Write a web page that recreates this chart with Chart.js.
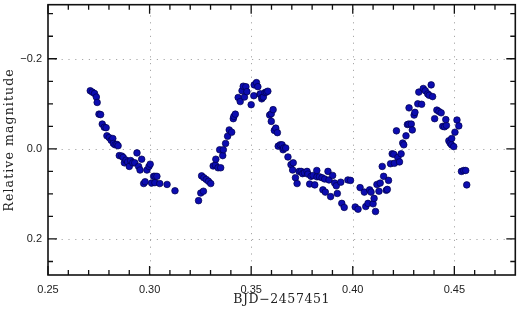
<!DOCTYPE html>
<html>
<head>
<meta charset="utf-8">
<script src="https://cdn.jsdelivr.net/npm/chart.js@4.4.1/dist/chart.umd.min.js"></script>
<style>
  html, body { margin: 0; padding: 0; background: #fff; }
  #wrap { width: 520px; height: 314px; }
</style>
</head>
<body>
<div id="wrap"><canvas id="lc" width="520" height="314"></canvas></div>
<script>
// time (BJD - 2457451)
const bjd = [
  0.2708, 0.2718, 0.2729, 0.2738, 0.2742, 0.2751, 0.2759, 0.2767, 0.2777, 0.2786,
  0.2790, 0.2801, 0.2811, 0.2819, 0.2822, 0.2830, 0.2839, 0.2845, 0.2851, 0.2863,
  0.2870, 0.2876, 0.2884, 0.2892, 0.2900, 0.2907, 0.2917, 0.2927, 0.2938, 0.2946,
  0.2953, 0.2961, 0.2971, 0.2978, 0.2987, 0.2997, 0.3003, 0.3010, 0.3020, 0.3026,
  0.3027, 0.3036, 0.3050, 0.3086, 0.3125,
  0.3241, 0.3252, 0.3265, 0.3256, 0.3267, 0.3279, 0.3290, 0.3301, 0.3313, 0.3324,
  0.3326, 0.3337, 0.3350, 0.3345, 0.3360, 0.3363, 0.3374, 0.3384, 0.3392, 0.3404,
  0.3412, 0.3415, 0.3422, 0.3436, 0.3446, 0.3455, 0.3461, 0.3467, 0.3474, 0.3479,
  0.3500, 0.3513, 0.3515, 0.3526, 0.3533, 0.3543, 0.3546, 0.3552, 0.3554, 0.3560,
  0.3568, 0.3575, 0.3582,
  0.3591, 0.3599, 0.3608, 0.3599, 0.3614, 0.3621, 0.3629, 0.3633, 0.3643, 0.3652,
  0.3657, 0.3660, 0.3670, 0.3681, 0.3696, 0.3707, 0.3704, 0.3718, 0.3726, 0.3736,
  0.3746, 0.3753, 0.3762, 0.3775, 0.3779, 0.3788, 0.3795, 0.3805, 0.3813, 0.3823,
  0.3824, 0.3836, 0.3849, 0.3853, 0.3865, 0.3862, 0.3878, 0.3883, 0.3891, 0.3901,
  0.3911, 0.3919, 0.3924, 0.3941, 0.3946, 0.3958, 0.3976, 0.3989, 0.4012, 0.4026,
  0.4036, 0.4057, 0.4064, 0.4075, 0.4083, 0.4090, 0.4100, 0.4105, 0.4112, 0.4119,
  0.4129, 0.4135, 0.4145, 0.4152, 0.4165, 0.4170, 0.4176, 0.4186, 0.4194, 0.4202,
  0.4205, 0.4215, 0.4222, 0.4230, 0.4238, 0.4246, 0.4251, 0.4262, 0.4269, 0.4276,
  0.4277, 0.4288, 0.4293, 0.4302, 0.4306, 0.4320, 0.4325, 0.4339, 0.4347, 0.4357,
  0.4369, 0.4376, 0.4386, 0.4393, 0.4403, 0.4414, 0.4424, 0.4435, 0.4443, 0.4452,
  0.4461, 0.4458, 0.4473, 0.4479, 0.4486, 0.4497, 0.4487, 0.4503, 0.4513, 0.4522,
  0.4535, 0.4546, 0.4556, 0.4561
];

// relative magnitude
const relMag = [
  -0.129, -0.126, -0.123, -0.115, -0.103, -0.077, -0.076, -0.055, -0.048, -0.047,
  -0.029, -0.025, -0.019, -0.023, -0.012, -0.009, -0.010, -0.007, 0.015, 0.016,
  0.019, 0.031, 0.025, 0.029, 0.039, 0.026, 0.031, 0.031, 0.009, 0.039,
  0.047, 0.023, 0.077, 0.073, 0.047, 0.039, 0.034, 0.076, 0.061, 0.075,
  0.061, 0.061, 0.077, 0.079, 0.093,
  0.115, 0.098, 0.094, 0.060, 0.064, 0.068, 0.072, 0.077, 0.038, 0.036,
  0.023, 0.042, 0.042, 0.002, 0.015, 0.002, -0.012, -0.028, -0.042, -0.037,
  -0.067, -0.072, -0.077, -0.114, -0.105, -0.129, -0.139, -0.115, -0.138, -0.127,
  -0.098, -0.118, -0.142, -0.147, -0.138, -0.121, -0.122, -0.111, -0.114, -0.115,
  -0.125, -0.126, -0.128,
  -0.075, -0.078, -0.087, -0.061, -0.041, -0.046, -0.036, -0.006, -0.009, -0.009,
  0.002, -0.002, -0.002, 0.018, 0.035, 0.031, 0.047, 0.064, 0.077, 0.050,
  0.050, 0.055, 0.053, 0.050, 0.056, 0.078, 0.061, 0.059, 0.080, 0.048,
  0.062, 0.062, 0.064, 0.091, 0.096, 0.067, 0.050, 0.069, 0.106, 0.059,
  0.076, 0.082, 0.099, 0.074, 0.121, 0.130, 0.069, 0.070, 0.129, 0.134,
  0.086, 0.096, 0.128, 0.121, 0.091, 0.096, 0.122, 0.110, 0.139, 0.079,
  0.094, 0.076, 0.039, 0.061, 0.092, 0.090, 0.070, 0.033, 0.011, 0.012,
  0.032, -0.040, 0.019, 0.029, 0.011, -0.013, -0.009, -0.029, -0.054, -0.055,
  -0.091, -0.055, -0.042, -0.075, -0.081, -0.100, -0.126, -0.099, -0.134, -0.129,
  -0.122, -0.119, -0.142, -0.116, -0.067, -0.086, -0.083, -0.080, -0.050, -0.049,
  -0.052, -0.065, -0.018, -0.013, -0.009, -0.005, -0.023, -0.037, -0.064, -0.051,
  0.050, 0.048, 0.048, 0.080
];

const xMajor = [0.25, 0.30, 0.35, 0.40, 0.45];
const xMinor = [0.26, 0.27, 0.28, 0.29, 0.31, 0.32, 0.33, 0.34, 0.36, 0.37, 0.38, 0.39,
                0.41, 0.42, 0.43, 0.44, 0.46, 0.47];
const yMajor = [-0.2, 0.0, 0.2];
const yMinor = [-0.30, -0.25, -0.15, -0.10, -0.05, 0.05, 0.10, 0.15, 0.25];

const xTitle = 'BJD\u22122457451';
const yTitle = 'Relative magnitude';

const points = bjd.map((t, i) => ({ x: t, y: relMag[i] }));

// frame, dotted grid, inward ticks and spaced serif axis titles
const framePlugin = {
  id: 'frame',
  beforeDatasetsDraw(chart) {
    const { ctx, chartArea: a, scales } = chart;
    ctx.save();
    ctx.strokeStyle = '#a8a8a8';
    ctx.lineWidth = 1;
    ctx.setLineDash([1.2, 5.6]);
    xMajor.forEach(v => {
      const px = Math.round(scales.x.getPixelForValue(v)) + 0.5;
      if (px <= a.left + 2) return;
      ctx.beginPath(); ctx.moveTo(px, a.bottom); ctx.lineTo(px, a.top); ctx.stroke();
    });
    yMajor.forEach(v => {
      const py = Math.round(scales.y.getPixelForValue(v)) + 0.5;
      ctx.beginPath(); ctx.moveTo(a.left, py); ctx.lineTo(a.right, py); ctx.stroke();
    });
    ctx.restore();
  },
  afterDatasetsDraw(chart) {
    const { ctx, chartArea: a, scales } = chart;
    ctx.save();
    ctx.strokeStyle = '#111';
    ctx.lineWidth = 1.3;
    const tickX = (v, len) => {
      const px = scales.x.getPixelForValue(v);
      ctx.beginPath();
      ctx.moveTo(px, a.bottom); ctx.lineTo(px, a.bottom - len);
      ctx.moveTo(px, a.top); ctx.lineTo(px, a.top + len);
      ctx.stroke();
    };
    const tickY = (v, len) => {
      const py = scales.y.getPixelForValue(v);
      ctx.beginPath();
      ctx.moveTo(a.left, py); ctx.lineTo(a.left + len, py);
      ctx.moveTo(a.right, py); ctx.lineTo(a.right - len, py);
      ctx.stroke();
    };
    xMajor.forEach(v => tickX(v, 9));
    xMinor.forEach(v => tickX(v, 5));
    yMajor.forEach(v => tickY(v, 9));
    yMinor.forEach(v => tickY(v, 5));
    ctx.lineWidth = 1.6;
    ctx.strokeRect(a.left, a.top, a.right - a.left, a.bottom - a.top);
    ctx.restore();
  },
  afterDraw(chart) {
    const { ctx, chartArea: a } = chart;
    ctx.save();
    ctx.fillStyle = '#222';
    ctx.textAlign = 'center';
    ctx.textBaseline = 'middle';
    ctx.font = '12.5px "DejaVu Serif"';
    ctx.letterSpacing = '0.6px';
    ctx.fillText(xTitle, (a.left + a.right) / 2, 300);
    ctx.translate(10, (a.top + a.bottom) / 2);
    ctx.rotate(-Math.PI / 2);
    ctx.letterSpacing = '1.1px';
    ctx.fillText(yTitle, 0, 0);
    ctx.restore();
  }
};

new Chart(document.getElementById('lc'), {
  type: 'scatter',
  data: {
    datasets: [{
      data: points,
      pointRadius: 3.3,
      pointBackgroundColor: '#0c0cb0',
      pointBorderColor: '#00004a',
      pointBorderWidth: 0.7
    }]
  },
  options: {
    responsive: false,
    animation: false,
    layout: { padding: { top: 2, right: -2, left: 0, bottom: 0 } },
    plugins: { legend: { display: false }, tooltip: { enabled: false } },
    scales: {
      x: {
        type: 'linear',
        min: 0.25,
        max: 0.48,
        afterBuildTicks: s => { s.ticks = xMajor.map(v => ({ value: v })); },
        afterFit: s => { s.height = 39; s.paddingLeft = 0; s.paddingRight = 0; },
        grid: { display: false, drawTicks: false },
        border: { display: false },
        ticks: {
          padding: 8,
          color: '#222',
          font: { family: 'Liberation Sans', size: 11 },
          maxRotation: 0,
          callback: v => v.toFixed(2)
        }
      },
      y: {
        type: 'linear',
        reverse: true,
        min: -0.32,
        max: 0.28,
        afterBuildTicks: s => { s.ticks = yMajor.map(v => ({ value: v })); },
        afterFit: s => { s.width = 48; s.paddingTop = 0; s.paddingBottom = 0; },
        grid: { display: false, drawTicks: false },
        border: { display: false },
        ticks: {
          padding: 6,
          color: '#222',
          font: { family: 'Liberation Sans', size: 11 },
          callback: v => (v < 0 ? '\u2212' : '') + Math.abs(v).toFixed(1)
        }
      }
    }
  },
  plugins: [framePlugin]
});
</script>
</body>
</html>
